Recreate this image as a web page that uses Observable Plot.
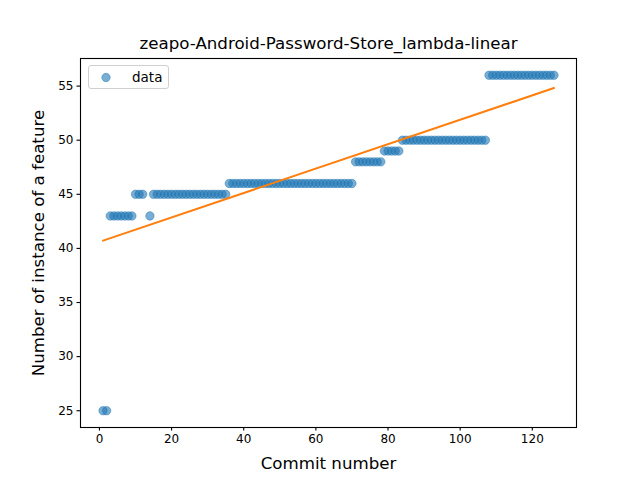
<!DOCTYPE html>
<html>
<head>
<meta charset="utf-8">
<script src="https://cdn.jsdelivr.net/npm/d3@7"></script>
<script src="https://cdn.jsdelivr.net/npm/@observablehq/plot@0.6"></script>
<style>
  html, body { margin: 0; padding: 0; background: white; }
  #wrap { position: relative; width: 640px; height: 480px; font-family: "DejaVu Sans", sans-serif; }
  #legend { position: absolute; left: 88px; top: 65px; width: 81px; height: 24px; border: 1px solid #d0d0d0; border-radius: 3px; background: rgba(255,255,255,0.8); box-sizing: border-box; }
  #legend svg { position: absolute; left: 0; top: 0; }
  #legend span { position: absolute; left: 43px; top: 3px; font-size: 13.5px; color: #000; }
</style>
</head>
<body>
<div id="wrap"></div>
<script>
const title = "zeapo-Android-Password-Store_lambda-linear";
const xLabel = "Commit number";
const yLabel = "Number of instance of a feature";
const seriesName = "data";

const commits = [1,2,3,4,5,6,7,8,9,10,11,12,14,15,16,17,18,19,20,21,22,23,24,25,26,27,28,29,30,31,32,33,34,35,36,37,38,39,40,41,42,43,44,45,46,47,48,49,50,51,52,53,54,55,56,57,58,59,60,61,62,63,64,65,66,67,68,69,70,71,72,73,74,75,76,77,78,79,80,81,82,83,84,85,86,87,88,89,90,91,92,93,94,95,96,97,98,99,100,101,102,103,104,105,106,107,108,109,110,111,112,113,114,115,116,117,118,119,120,121,122,123,124,125,126];
const counts = [25,25,
  43,43,43,43,43,43,43,
  45,45,45,
  43,
  45,45,45,45,45,45,45,45,45,45,45,45,45,45,45,45,45,45,45,45,45,
  46,46,46,46,46,46,46,46,46,46,46,46,46,46,46,46,46,46,46,46,46,46,46,46,46,46,46,46,46,46,46,46,46,46,46,
  48,48,48,48,48,48,48,48,
  49,49,49,49,49,
  50,50,50,50,50,50,50,50,50,50,50,50,50,50,50,50,50,50,50,50,50,50,50,50,
  56,56,56,56,56,56,56,56,56,56,56,56,56,56,56,56,56,56,56];

const xTicks = [0, 20, 40, 60, 80, 100, 120];
const yTicks = [25, 30, 35, 40, 45, 50, 55];

const data = commits.map((c, i) => ({commit: c, count: counts[i]}));

const chart = Plot.plot({
  width: 640,
  height: 480,
  marginLeft: 80,
  marginRight: 64,
  marginTop: 58,
  marginBottom: 53,
  style: {fontFamily: "DejaVu Sans, sans-serif", fontSize: "12px", color: "black", background: "white"},
  x: {domain: [-5.25, 132.25]},
  y: {domain: [23.45, 57.55]},
  marks: [
    Plot.dot(data, {x: "commit", y: "count", r: 4.2, fill: "#1f77b4", fillOpacity: 0.6, stroke: "#1f77b4", strokeOpacity: 0.6, strokeWidth: 0.8}),
    Plot.linearRegressionY(data, {x: "commit", y: "count", ci: 0, stroke: "#ff7f0e", strokeWidth: 2}),
    Plot.frame({stroke: "black", strokeWidth: 1.1}),
    Plot.axisX({ticks: xTicks, tickSize: 3.5, tickPadding: 3.5, fontSize: 12, label: null, strokeWidth: 1.1}),
    Plot.axisY({ticks: yTicks, tickSize: 3.5, tickPadding: 3.5, fontSize: 12, label: null, strokeWidth: 1.1}),
    Plot.text([title], {frameAnchor: "top", dy: -15, fontSize: 16.67, lineAnchor: "middle", textAnchor: "middle"}),
    Plot.text([xLabel], {frameAnchor: "bottom", dy: 36, fontSize: 16.67, lineAnchor: "middle", textAnchor: "middle"}),
    Plot.text([yLabel], {frameAnchor: "left", dx: -42, rotate: -90, fontSize: 16.67, lineAnchor: "middle", textAnchor: "middle"})
  ]
});

const wrap = document.getElementById("wrap");
wrap.appendChild(chart);

const legend = document.createElement("div");
legend.id = "legend";
legend.innerHTML = `<svg width="81" height="24"><circle cx="17" cy="11.5" r="4.2" fill="#1f77b4" fill-opacity="0.6" stroke="#1f77b4" stroke-opacity="0.6" stroke-width="0.8"></circle></svg><span>${seriesName}</span>`;
wrap.appendChild(legend);
</script>
</body>
</html>
